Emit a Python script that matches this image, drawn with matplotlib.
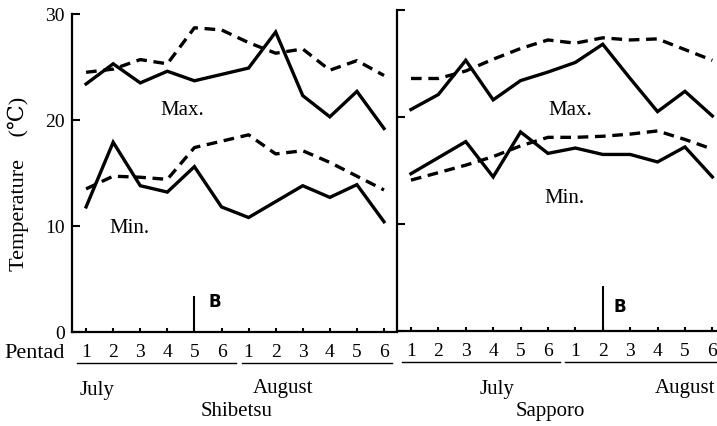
import matplotlib.pyplot as plt

plt.rcParams['font.family'] = ['Liberation Serif', 'DejaVu Serif']

# pentad index 0..11 : July 1-6, August 1-6
pentads = list(range(12))
pentad_labels = ['1', '2', '3', '4', '5', '6'] * 2

# Shibetsu
shib_max = [23.4, 25.3, 23.5, 24.6, 23.7, 24.3, 24.9, 28.3, 22.3, 20.3, 22.7, 19.2]
shib_max_norm = [24.5, 24.8, 25.7, 25.3, 28.7, 28.5, 27.3, 26.3, 26.7, 24.7, 25.6, 24.2]
shib_min = [11.8, 17.9, 13.8, 13.2, 15.6, 11.8, 10.8, 12.3, 13.8, 12.7, 13.9, 10.4]
shib_min_norm = [13.5, 14.7, 14.6, 14.4, 17.4, 18.0, 18.6, 16.8, 17.1, 16.0, 14.7, 13.4]

# Sapporo
sap_max = [20.7, 22.1, 25.3, 21.6, 23.4, 24.2, 25.1, 26.8, 23.6, 20.5, 22.4, 20.1]
sap_max_norm = [23.6, 23.6, 24.3, 25.4, 26.4, 27.2, 26.9, 27.4, 27.2, 27.3, 26.3, 25.3]
sap_min = [14.7, 16.2, 17.7, 14.4, 18.6, 16.6, 17.1, 16.5, 16.5, 15.8, 17.2, 14.4]
sap_min_norm = [14.1, 14.8, 15.5, 16.3, 17.3, 18.1, 18.1, 18.2, 18.4, 18.7, 17.9, 17.0]

# bar "B" position (pentad index) and height
shib_b, shib_b_h = 4, 3.4
sap_b, sap_b_h = 7, 4.2

fig = plt.figure(figsize=(7.17, 4.27), dpi=100)
ax1 = fig.add_axes([72 / 717, 1 - 333 / 427, 325 / 717, 318 / 427])
ax2 = fig.add_axes([397 / 717, 1 - 332 / 427, 320 / 717, 321 / 427])

lw = 2.4
dash = (0, (3.2, 2.0))
fs = 15


def panel(ax, mx, mx_n, mn, mn_n, xlim, b, b_h, b_dx, b_y):
    ax.plot(pentads, mx, color='black', lw=lw, solid_joinstyle='miter')
    ax.plot(pentads, mx_n, color='black', lw=lw, linestyle=dash)
    ax.plot(pentads, mn, color='black', lw=lw, solid_joinstyle='miter')
    ax.plot(pentads, mn_n, color='black', lw=lw, linestyle=dash)
    ax.vlines(b, 0, b_h, color='black', lw=1.5)
    ax.text(b + b_dx, b_y, 'B', family='DejaVu Sans', fontweight='bold',
            fontsize=12, ha='center', va='center')
    ax.set_xlim(*xlim)
    ax.set_ylim(0, 30)
    ax.set_yticks([0, 10, 20, 30])
    ax.set_xticks(pentads)
    ax.set_xticklabels(pentad_labels, fontsize=14)
    ax.tick_params(axis='x', direction='in', length=3, width=1.5, pad=8)
    ax.tick_params(axis='y', direction='in', length=6, width=1.5, labelsize=14, pad=5)
    for s in ['top', 'right']:
        ax.spines[s].set_visible(False)
    for s in ['left', 'bottom']:
        ax.spines[s].set_linewidth(1.6)
    ax.patch.set_alpha(0)


panel(ax1, shib_max, shib_max_norm, shib_min, shib_min_norm, (-0.52, 11.48),
      shib_b, shib_b_h, 0.74, 2.9)
panel(ax2, sap_max, sap_max_norm, sap_min, sap_min_norm, (-0.51, 11.17),
      sap_b, sap_b_h, 0.62, 2.3)
ax2.set_yticklabels([])

ax1.text(3.55, 21.0, 'Max.', fontsize=fs, ha='center', va='center')
ax1.text(1.6, 9.9, 'Min.', fontsize=fs, ha='center', va='center')
ax2.text(5.8, 20.7, 'Max.', fontsize=fs, ha='center', va='center')
ax2.text(5.6, 12.5, 'Min.', fontsize=fs, ha='center', va='center')

ax1.set_ylabel('Temperature    (℃)', fontsize=16)
ax1.yaxis.set_label_coords(-0.132, 0.47)

fig.text(0.006, 1 - 354 / 427, 'Pentad', fontsize=16, ha='left', va='center')

# month underlines, month names and station names below each panel
for ax, july_span, aug_span, july_x, aug_x, name, name_x in [
        (ax1, (-0.33, 5.53), (5.76, 11.29), 0.41, 7.27, 'Shibetsu', 5.57),
        (ax2, (-0.33, 5.44), (5.62, 11.4), 3.14, 10.0, 'Sapporo', 5.07)]:
    tr = ax.get_xaxis_transform()
    for span in (july_span, aug_span):
        ax.plot(span, [-0.097, -0.097], color='black', lw=1.0, transform=tr, clip_on=False)
    ax.text(july_x, -0.18, 'July', fontsize=fs, ha='center', va='center', transform=tr)
    ax.text(aug_x, -0.175, 'August', fontsize=fs, ha='center', va='center', transform=tr)
    ax.text(name_x, -0.248, name, fontsize=fs, ha='center', va='center', transform=tr)

fig.savefig('out.png', dpi=100)
